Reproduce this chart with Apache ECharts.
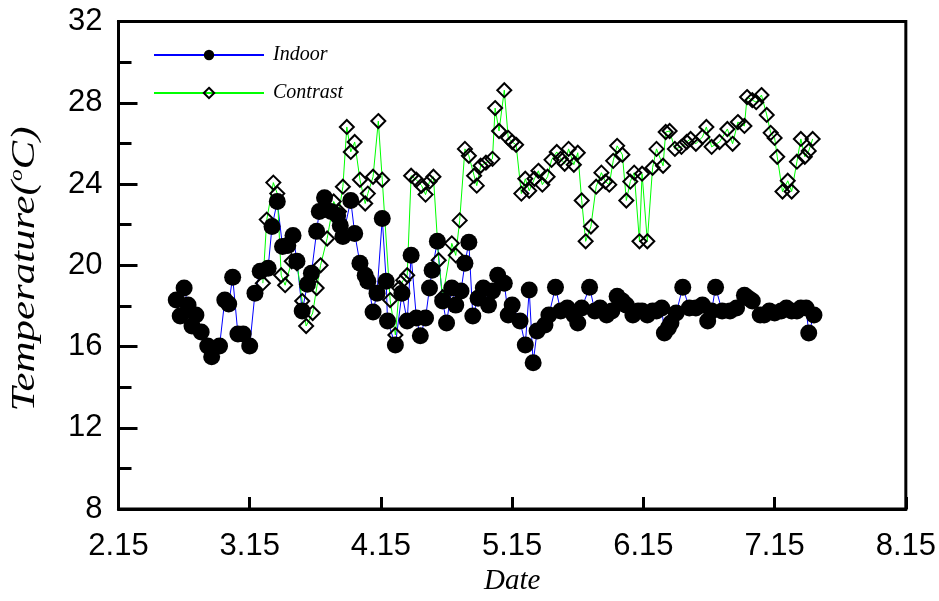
<!DOCTYPE html>
<html>
<head>
<meta charset="utf-8">
<script src="https://cdn.jsdelivr.net/npm/echarts@6/dist/echarts.min.js"></script>
<style>html,body{margin:0;padding:0;background:#fff}#c{width:939px;height:601px}</style>
</head>
<body>
<div id="c"></div>
<script>
// x positions in months after 2.15 (0 = 2.15, 1 = 3.15, ...)
var tickLabels = ['2.15','3.15','4.15','5.15','6.15','7.15','8.15'];
var indoorDates = [0.44,0.47,0.50,0.53,0.56,0.59,0.63,0.68,0.71,0.77,0.81,0.84,0.87,0.91,0.95,1.00,1.04,1.08,1.14,1.17,1.21,1.25,1.29,1.33,1.36,1.40,1.44,1.47,1.51,1.53,1.57,1.62,1.67,1.69,1.71,1.77,1.80,1.84,1.88,1.90,1.94,1.97,2.01,2.04,2.05,2.11,2.16,2.20,2.23,2.27,2.30,2.34,2.37,2.39,2.43,2.47,2.50,2.54,2.57,2.61,2.64,2.67,2.70,2.74,2.78,2.82,2.85,2.89,2.94,2.97,3.00,3.06,3.10,3.13,3.16,3.19,3.25,3.28,3.33,3.37,3.42,3.47,3.50,3.53,3.59,3.63,3.67,3.72,3.76,3.80,3.84,3.87,3.92,3.96,3.99,4.03,4.07,4.10,4.14,4.16,4.19,4.21,4.25,4.30,4.35,4.40,4.45,4.49,4.52,4.55,4.60,4.66,4.71,4.77,4.80,4.83,4.89,4.92,4.96,5.00,5.05,5.09,5.13,5.17,5.20,5.24,5.26,5.30];
var indoorTemps = [18.29,17.50,18.88,18.04,17.01,17.55,16.72,16.03,15.50,16.03,18.29,18.09,19.41,16.62,16.62,16.03,18.63,19.71,19.86,21.91,23.14,20.93,20.98,21.47,20.20,17.75,19.07,19.61,21.67,22.65,23.33,22.65,22.45,21.96,21.42,23.19,21.57,20.10,19.51,19.22,17.70,18.63,22.30,19.22,17.26,16.08,18.63,17.26,20.49,17.41,16.53,17.41,18.88,19.76,21.18,18.24,17.16,18.88,18.04,18.73,20.10,21.13,17.50,18.38,18.88,18.04,18.73,19.51,19.12,17.55,18.04,17.26,16.08,18.78,15.20,16.77,17.06,17.55,18.92,17.75,17.90,17.55,17.16,17.90,18.92,17.75,17.90,17.55,17.75,18.48,18.24,18.04,17.55,17.75,17.75,17.55,17.75,17.75,17.90,16.67,16.92,17.16,17.65,18.92,17.90,17.90,18.04,17.26,17.75,18.92,17.75,17.75,17.90,18.53,18.38,18.24,17.55,17.55,17.75,17.65,17.75,17.90,17.75,17.75,17.90,17.90,16.67,17.55];
var contrastDates = [1.10,1.13,1.18,1.21,1.24,1.27,1.32,1.36,1.40,1.43,1.48,1.51,1.54,1.59,1.64,1.68,1.71,1.74,1.77,1.80,1.84,1.88,1.90,1.94,1.98,2.01,2.07,2.11,2.14,2.17,2.20,2.23,2.27,2.31,2.34,2.37,2.40,2.44,2.47,2.54,2.57,2.60,2.64,2.67,2.71,2.73,2.76,2.80,2.85,2.87,2.90,2.94,2.97,3.00,3.03,3.07,3.10,3.13,3.17,3.20,3.23,3.27,3.30,3.34,3.37,3.40,3.43,3.47,3.50,3.53,3.56,3.60,3.64,3.68,3.71,3.74,3.77,3.80,3.84,3.87,3.90,3.93,3.97,3.99,4.03,4.07,4.10,4.15,4.17,4.20,4.24,4.29,4.33,4.36,4.40,4.45,4.48,4.52,4.58,4.64,4.68,4.72,4.77,4.79,4.83,4.86,4.90,4.94,4.97,5.00,5.02,5.06,5.10,5.13,5.17,5.20,5.23,5.26,5.29];
var contrastTemps = [19.12,22.25,24.07,23.53,19.51,19.02,20.20,20.10,18.24,17.01,17.65,18.88,20.00,21.32,23.14,22.65,23.87,26.81,25.58,26.07,24.21,23.04,23.53,24.36,27.10,24.21,18.29,16.57,18.88,19.27,19.51,24.41,24.21,23.92,23.48,24.12,24.36,20.25,18.43,21.08,20.49,22.21,25.73,25.39,24.41,23.92,24.90,25.05,25.24,27.74,26.61,28.62,26.27,26.07,25.93,23.53,24.26,23.67,24.26,24.65,23.97,24.36,25.19,25.58,25.24,25.00,25.73,24.95,25.54,23.19,21.18,21.91,23.87,24.56,24.12,23.97,25.14,25.88,25.44,23.19,24.12,24.56,21.18,24.51,21.18,24.80,25.73,24.90,26.56,26.61,25.73,25.83,26.07,26.22,25.98,26.32,26.81,25.83,26.07,26.71,25.98,27.05,26.86,28.28,28.13,28.03,28.38,27.40,26.52,26.27,25.34,23.63,24.16,23.63,25.10,26.22,25.34,25.63,26.22];

function pairs(xs, ys){ return xs.map(function(x,i){ return [x, ys[i]]; }); }

var serif = 'Liberation Serif, Times New Roman, serif';
var chart = echarts.init(document.getElementById('c'), null, {renderer:'canvas'});
var labelFont = {fontFamily:'Liberation Sans, Arial, sans-serif', fontSize:31, color:'#000'};
chart.setOption({
  animation:false,
  backgroundColor:'#fff',
  grid:{left:118.5, right:32.5, top:21.5, bottom:89.5, show:true, borderColor:'#000', borderWidth:3, containLabel:false},
  legend:{
    orient:'vertical', left:148, top:40, itemWidth:110, itemHeight:13, itemGap:18,
    textStyle:{fontFamily:serif, fontStyle:'italic', fontSize:20, color:'#000', lineHeight:20, padding:[0,0,0,4]},
    data:['Indoor','Contrast']
  },
  graphic:[{
    type:'text', x:25, y:269, rotation:Math.PI/2, scaleX:1.3,
    style:{
      text:'{n|Temperature(}{s|o}{n|C)}', x:0, y:0, align:'center', verticalAlign:'middle',
      rich:{
        n:{fontFamily:serif, fontStyle:'italic', fontSize:33, fill:'#000'},
        s:{fontFamily:serif, fontStyle:'italic', fontSize:18, fill:'#000', verticalAlign:'top', padding:[0,0,12,0]}
      }
    }
  }],
  xAxis:{
    type:'value', min:0, max:6, interval:1,
    name:'Date', nameLocation:'middle', nameGap:56,
    nameTextStyle:{fontFamily:serif, fontStyle:'italic', fontSize:29, color:'#000'},
    axisLine:{show:true, lineStyle:{color:'#000', width:3}},
    axisTick:{show:true, inside:true, length:12, lineStyle:{color:'#000', width:3}},
    axisLabel:Object.assign({margin:22, formatter:function(v){ return tickLabels[Math.round(v)]; }}, labelFont),
    splitLine:{show:false}
  },
  yAxis:{
    type:'value', min:8, max:32, interval:4,
    axisLine:{show:true, lineStyle:{color:'#000', width:3}},
    axisTick:{show:true, inside:true, length:19, lineStyle:{color:'#000', width:3}},
    minorTick:{show:true, splitNumber:2, length:13, lineStyle:{color:'#000', width:3}},
    axisLabel:Object.assign({margin:16}, labelFont),
    splitLine:{show:false}
  },
  series:[
    {
      name:'Indoor', type:'line', data:pairs(indoorDates, indoorTemps),
      symbol:'circle', symbolSize:17, showAllSymbol:true,
      lineStyle:{color:'#0000ff', width:1},
      itemStyle:{color:'#000'}
    },
    {
      name:'Contrast', type:'line', data:pairs(contrastDates, contrastTemps),
      symbol:'diamond', symbolSize:14, showAllSymbol:true,
      lineStyle:{color:'#00ff00', width:1},
      itemStyle:{color:'rgba(255,255,255,0)', borderColor:'#000', borderWidth:2}
    }
  ]
});
</script>
</body>
</html>
